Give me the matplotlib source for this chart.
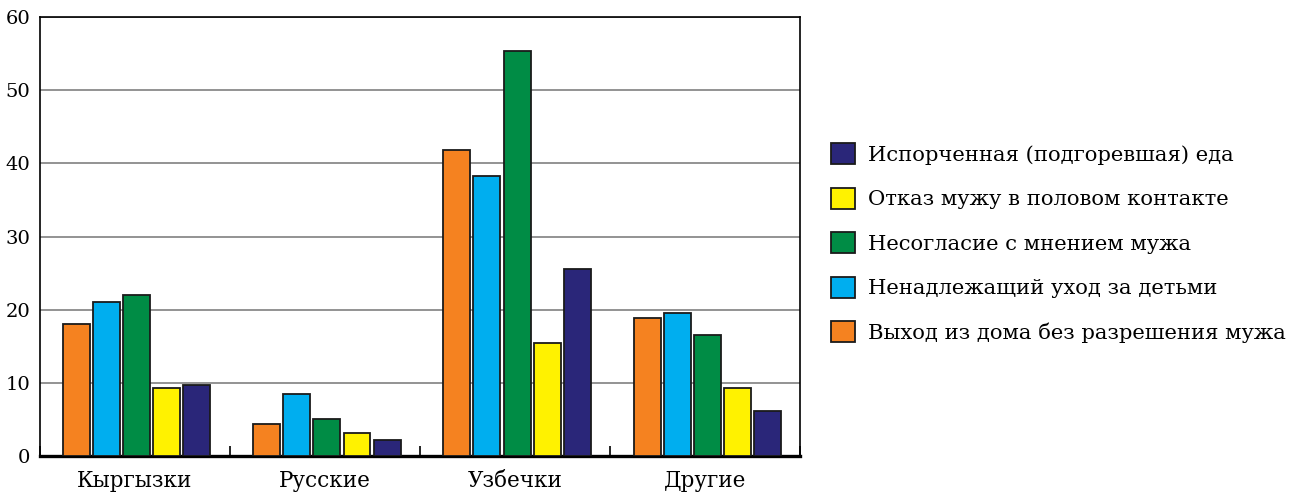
import numpy as np
import matplotlib.pyplot as plt
from matplotlib.patches import Patch

groups = ['Кыргызки', 'Русские', 'Узбечки', 'Другие']
series = [
    'Выход из дома без разрешения мужа',
    'Ненадлежащий уход за детьми',
    'Несогласие с мнением мужа',
    'Отказ мужу в половом контакте',
    'Испорченная (подгоревшая) еда',
]
leave_home = [18.0, 4.4, 41.8, 18.9]
child_care = [21.0, 8.5, 38.3, 19.6]
disagree = [22.0, 5.1, 55.4, 16.6]
refuse_sex = [9.3, 3.2, 15.5, 9.3]
burnt_food = [9.7, 2.2, 25.6, 6.1]
values = [leave_home, child_care, disagree, refuse_sex, burnt_food]
colors = ['#F58220', '#00AEEF', '#008C45', '#FFF200', '#2A2679']

plt.rcParams['font.family'] = ['DejaVu Serif']

fig = plt.figure(figsize=(12.95, 4.93), dpi=100)
ax = fig.add_axes([0.0309, 0.075, 0.587, 0.8905])

centers = np.arange(len(groups)) + 0.5
pitch = 0.158
width = 0.142
for k, (vals, col) in enumerate(zip(values, colors)):
    ax.bar(centers + (k - 2) * pitch + 0.01, vals, width, color=col,
           edgecolor='#1a1a1a', linewidth=1.3, zorder=3)

ax.set_xlim(0, 4)
ax.set_ylim(0, 60)
ax.set_yticks(range(0, 61, 10))
ax.yaxis.grid(True, color='#808080', linewidth=1.2, zorder=0)
ax.tick_params(axis='y', length=0, labelsize=14, pad=7)

ax.set_xticks(range(0, 5))
ax.set_xticklabels([])
ax.tick_params(axis='x', which='major', direction='in', length=7, width=1.2)
ax.set_xticks(centers, minor=True)
ax.set_xticklabels(groups, minor=True, fontsize=15.5)
ax.tick_params(axis='x', which='minor', length=0, pad=10)

for side in ['left', 'top', 'right']:
    ax.spines[side].set_linewidth(1.2)
ax.spines['bottom'].set_linewidth(2.4)

handles = [Patch(facecolor=c, edgecolor='#1a1a1a', linewidth=1.3) for c in colors]
fig.legend(handles[::-1], series[::-1], loc='center left',
           bbox_to_anchor=(0.627, 0.507), frameon=False, fontsize=15.2,
           handlelength=1.15, handleheight=1.15, labelspacing=1.08,
           handletextpad=0.6)

fig.savefig('out.png', dpi=100)
